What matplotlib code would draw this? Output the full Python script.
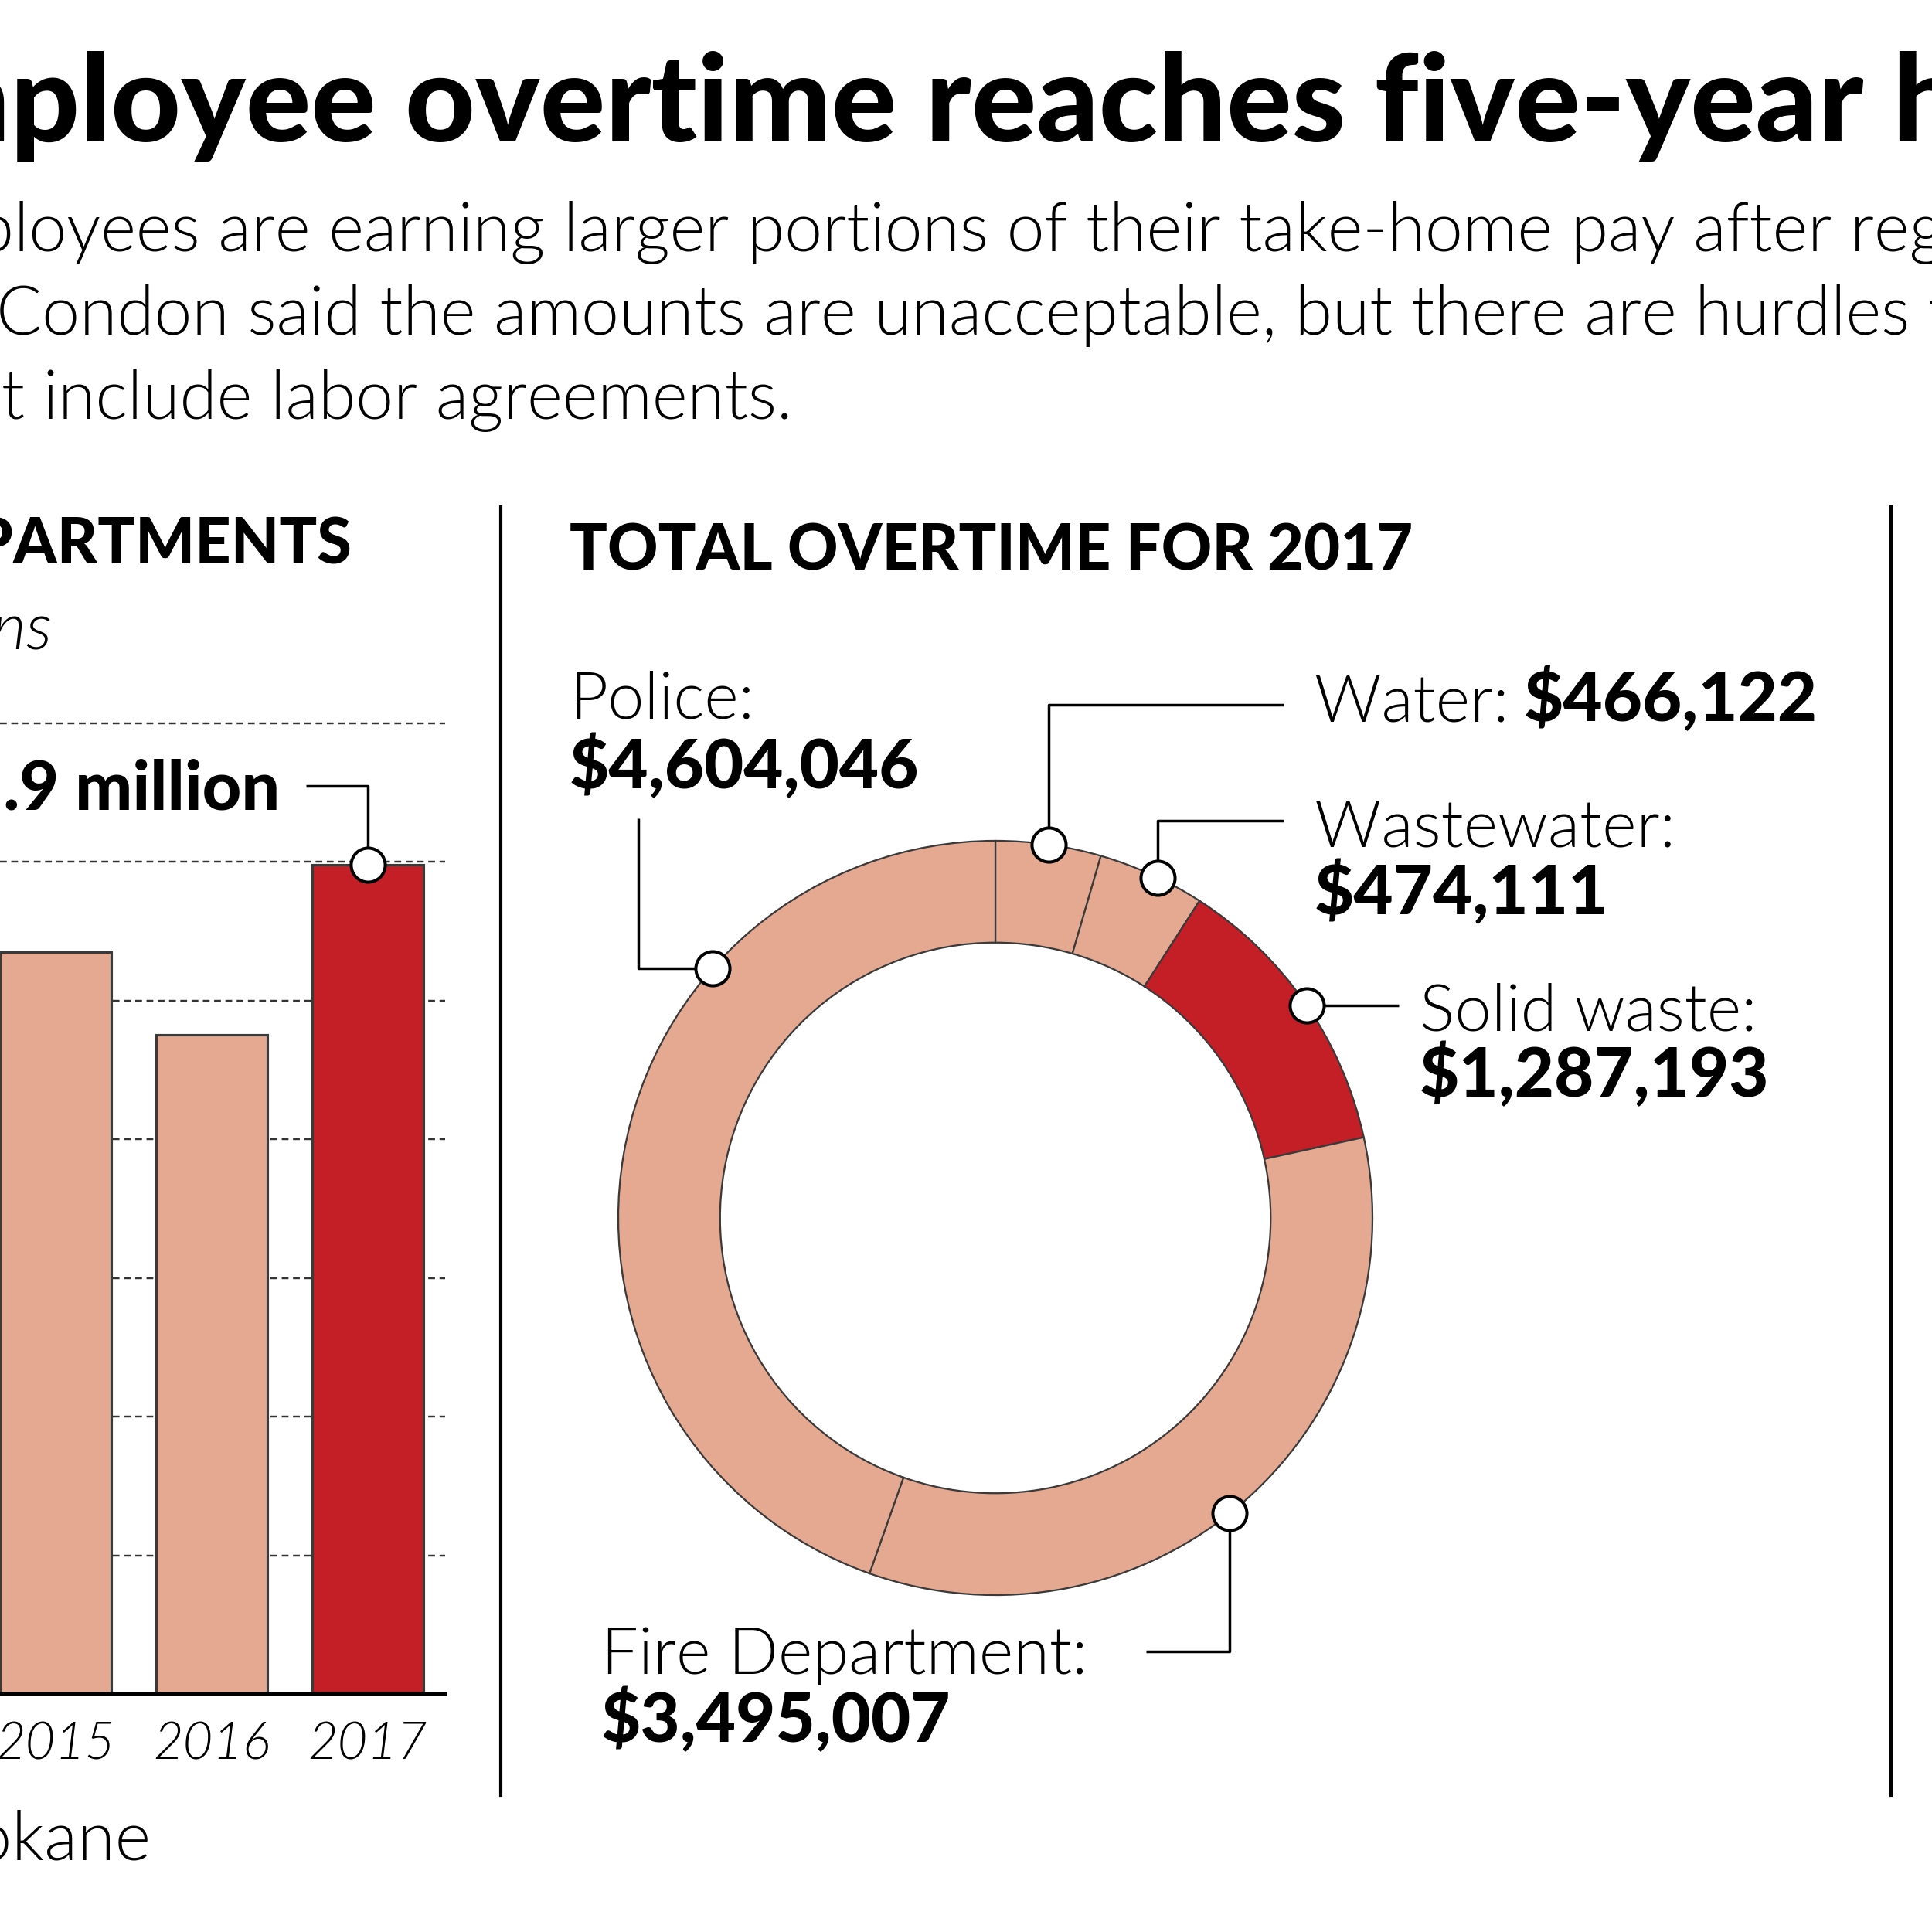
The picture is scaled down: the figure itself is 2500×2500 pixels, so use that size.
import math
import matplotlib
matplotlib.use("Agg")
import matplotlib.pyplot as plt
from matplotlib import font_manager as fm
from matplotlib.font_manager import FontProperties

# ---------------- data ----------------
bar_years = ["2015", "2016", "2017"]
bar_values_millions = [10.7, 9.5, 11.95]
bar_highlight = "2017"
grid_values = [2, 4, 6, 8, 10, 12, 14]
bar_callout = "$11.9 million"

dept_names = ["Water", "Wastewater", "Solid waste", "Fire Department", "Police"]
dept_overtime = [466122, 474111, 1287193, 3495007, 4604046]
dept_amount_labels = ["$466,122", "$474,111", "$1,287,193", "$3,495,007", "$4,604,046"]
dept_highlight = "Solid waste"

title_text = "City employee overtime reaches five-year high"
subtitle_lines = [
    "City employees are earning larger portions of their take-home pay after regular hours.",
    "Mayor David Condon said the amounts are unacceptable, but there are hurdles to fixing them",
    "that include labor agreements.",
]
left_header = "OVERTIME FOR ALL DEPARTMENTS"
left_unit = "In millions"
right_header = "TOTAL OVERTIME FOR 2017"
source_text = "Source: City of Spokane"

SALMON = "#E5A891"
RED = "#C41E26"
EDGE = "#3a3a3a"

# ---------------- fonts ----------------
def _w(f):
    w = f.weight
    if isinstance(w, str):
        w = fm.weight_dict.get(w, 400)
    return int(w)

def find_font(families, weights, italic=False):
    for fam in families:
        cands = [f for f in fm.fontManager.ttflist
                 if f.name == fam and ((f.style != "normal") == italic)]
        for w in weights:
            for f in cands:
                if _w(f) == w:
                    return FontProperties(fname=f.fname)
    return FontProperties(family="DejaVu Sans", weight=weights[0],
                          style="italic" if italic else "normal")

FAMS = ["Lato", "Roboto", "Open Sans", "Noto Sans"]
HEAVY = find_font(FAMS, [900, 800, 700])
LIGHT = find_font(FAMS, [300, 400])
LIGHT_IT = find_font(FAMS, [300, 400], italic=True)

# ---------------- figure ----------------
W = 2500
fig = plt.figure(figsize=(10, 10), dpi=250)
fig.patch.set_facecolor("white")
renderer = fig.canvas.get_renderer()

def sized(fp, size):
    p = fp.copy()
    p.set_size(size)
    return p

def width(s, fp, size):
    t = fig.text(0, 0, s, fontproperties=sized(fp, size))
    w = t.get_window_extent(renderer).width
    t.remove()
    return w

def fit(s, fp, target_px, base=30.0):
    return base * target_px / width(s, fp, base)

def rect(x0, y_top, x1, y_bot):
    return [x0 / W, 1 - y_bot / W, (x1 - x0) / W, (y_bot - y_top) / W]

# overlay axes in pixel coordinates (y down)
ov = fig.add_axes([0, 0, 1, 1], zorder=10)
ov.set_xlim(0, W)
ov.set_ylim(W, 0)
ov.axis("off")
ov.patch.set_alpha(0)

def txt(x, y, s, fp, size, ha="left"):
    return ov.text(x, y, s, fontproperties=sized(fp, size), ha=ha,
                   va="baseline", color="black")

def to_px(ax, x, y):
    dx, dy = ax.transData.transform((x, y))
    return dx, W - dy

LINE_KW = dict(color="black", lw=1.0, solid_capstyle="butt", zorder=4)
MARK_KW = dict(marker="o", ms=12.7, mfc="white", mec="black", mew=1.15,
               ls="none", zorder=6)

# ---------------- title & subtitle ----------------
vis = "ployee overtime reaches five-year"
ts = fit(vis, HEAVY, 2397)
pre = width("City em" + vis, HEAVY, ts) - width(vis, HEAVY, ts)
txt(13 - pre, 183, title_text, HEAVY, ts)

s1 = fit("loyees are earning larger portions of their take-home pay after", LIGHT, 2367)
s2 = fit("Condon said the amounts are unacceptable, but there are hurdles", LIGHT, 2462)
ss = (s1 + s2) / 2
v1 = "loyees are earning larger portions of their take-home pay after regular hours."
pre1 = width("City emp" + v1, LIGHT, ss) - width(v1, LIGHT, ss)
txt(18 - pre1, 325, subtitle_lines[0], LIGHT, ss)
v2 = "Condon said the amounts are unacceptable, but there are hurdles to fixing them"
pre2 = width("Mayor David " + v2, LIGHT, ss) - width(v2, LIGHT, ss)
txt(-5 - pre2, 433, subtitle_lines[1], LIGHT, ss)
txt(1025, 542, subtitle_lines[2], LIGHT, ss, ha="right")

# ---------------- dividers ----------------
for xd in (648, 2447):
    ov.plot([xd, xd], [656, 2323], color="black", lw=1.2, zorder=3)

# ---------------- headers ----------------
hs = fit(right_header, HEAVY, 1090)
txt(737, 738, right_header, HEAVY, hs)
txt(455, 729, left_header, HEAVY, hs, ha="right")
txt(67, 839, left_unit, LIGHT_IT, 24.5, ha="right")
txt(195, 2407, source_text, LIGHT, 25.5, ha="right")

# ---------------- bar chart ----------------
spacing = 202.0
c0 = 72.0
x_right = 576.0
ylim_top = 14.3
unit_px = 89.75
base_y = 2192.0
axb = fig.add_axes(rect(0, base_y - ylim_top * unit_px, x_right, base_y), zorder=2)
axb.set_xlim(-c0 / spacing, (x_right - c0) / spacing)
axb.set_ylim(0, ylim_top)
xs = list(range(len(bar_years)))
cols = [RED if y == bar_highlight else SALMON for y in bar_years]
axb.bar(xs, bar_values_millions, width=0.713, color=cols, edgecolor=EDGE,
        linewidth=0.9, zorder=2)
axb.set_yticks(grid_values)
axb.yaxis.grid(True, color="#333333", lw=0.7, ls=(0, (3.6, 2.4)))
axb.set_axisbelow(True)
axb.tick_params(axis="y", left=False, labelleft=False)
axb.set_xticks(xs)
axb.set_xticklabels(bar_years, fontproperties=sized(LIGHT_IT, 19.2))
axb.tick_params(axis="x", length=0, pad=10.3)
for sp in ("top", "left", "right"):
    axb.spines[sp].set_visible(False)
axb.spines["bottom"].set_linewidth(1.6)
axb.spines["bottom"].set_color("black")
axb.patch.set_alpha(0)

hi = bar_years.index(bar_highlight)
bx, by = to_px(axb, xs[hi], bar_values_millions[hi])
ov.plot([bx, bx, 396], [by, 1017, 1017], **LINE_KW)
ov.plot([bx], [by], **MARK_KW)
cs = min(fit(".9 million", HEAVY, 358), hs * 1.1)
txt(362, 1049, bar_callout, HEAVY, cs, ha="right")

# ---------------- donut ----------------
cx, cy, R = 1288.0, 1576.0, 488.0
axd = fig.add_axes(rect(cx - R, cy - R, cx + R, cy + R), zorder=2)
dcols = [RED if n == dept_highlight else SALMON for n in dept_names]
wedges, _ = axd.pie(dept_overtime, colors=dcols, startangle=90, counterclock=False,
                    radius=1.0,
                    wedgeprops=dict(width=0.27, edgecolor=EDGE, linewidth=0.65))
axd.set_xlim(-1, 1)
axd.set_ylim(-1, 1)
axd.set_aspect("equal")
axd.axis("off")

angle_shift = {"Water": 0, "Wastewater": -1, "Solid waste": -0.5,
               "Fire Department": -3, "Police": -31.7}
# leader route: ("v", y, x) = vertical then horizontal; ("h", x, y) = horizontal then vertical
leader = {"Water": ("v", 912, 1661), "Wastewater": ("v", 1062, 1661),
          "Solid waste": ("h", 1810, None), "Fire Department": ("v", 2137, 1483),
          "Police": ("h", 826, 1059)}
label_pos = {"Water": (1701, 933, None), "Wastewater": (1701, 1095, 1183),
             "Solid waste": (1837, 1333, 1419), "Fire Department": (778, 2166, 2254),
             "Police": (737, 930, 1020)}

ls_ = fit("Wastewater:", LIGHT, 467)
as_ = fit("$4,604,046", HEAVY, 471) * 0.96

for name, wdg, amt in zip(dept_names, wedges, dept_amount_labels):
    mid = math.radians((wdg.theta1 + wdg.theta2) / 2 + angle_shift[name])
    mx, my = to_px(axd, math.cos(mid), math.sin(mid))
    route = leader[name]
    if route[0] == "v":
        xs_l = [mx, mx, route[2]]
        ys_l = [my, route[1], route[1]]
    else:
        xs_l = [mx, route[1]] + ([route[1]] if route[2] is not None else [])
        ys_l = [my, my] + ([route[2]] if route[2] is not None else [])
    ov.plot(xs_l, ys_l, **LINE_KW)
    ov.plot([mx], [my], **MARK_KW)
    lx, ly1, ly2 = label_pos[name]
    txt(lx, ly1, name + ":", LIGHT, ls_)
    if ly2 is None:
        txt(1972, ly1, amt, HEAVY, as_)
    else:
        txt(lx, ly2, amt, HEAVY, as_)

fig.savefig("out.png", dpi=250, facecolor="white")
